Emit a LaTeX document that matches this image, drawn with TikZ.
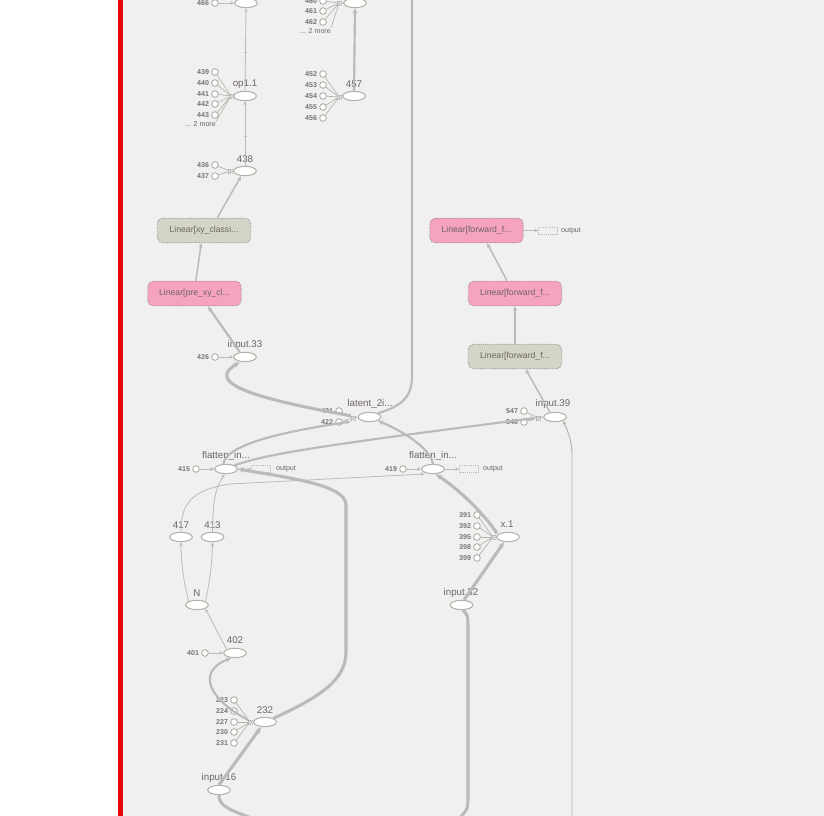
\documentclass[tikz,border=0pt]{standalone}
\usepackage{fontspec}
\setmainfont{Liberation Sans}
\usetikzlibrary{arrows.meta,shapes.geometric}
\definecolor{bgc}{HTML}{F0F0F0}
\definecolor{redbar}{HTML}{E8000B}
\definecolor{edgec}{HTML}{BABABA}
\definecolor{txt}{HTML}{6E6464}
\definecolor{ellb}{HTML}{B3B3AA}
\definecolor{pinkf}{HTML}{F5A3BE}
\definecolor{greenf}{HTML}{D3D6C6}
\definecolor{boxb}{HTML}{8C8080}
\begin{document}
\begin{tikzpicture}[x=0.75pt,y=-0.75pt,
  opn/.style={ellipse,draw=ellb,fill=white,line width=0.8pt,minimum width=17pt,minimum height=7pt,inner sep=0pt},
  cst/.style={circle,draw=ellb,fill=white,line width=0.7pt,minimum size=5pt,inner sep=0pt},
  junc/.style={rectangle,draw=gray!70,densely dotted,fill=gray!35,minimum size=3pt,inner sep=0pt},
  lab/.style={font=\fontsize{7.3}{8}\selectfont,text=txt,inner sep=0pt},
  clab/.style={font=\fontsize{5.3}{6}\selectfont\bfseries,text=txt!90,inner sep=0pt,anchor=east},
  boxn/.style={rectangle,rounded corners=4pt,draw=boxb,densely dotted,line width=0.6pt,minimum width=70pt,minimum height=18.5pt,font=\fontsize{6.5}{7}\selectfont,text=txt,inner sep=1pt},
  outb/.style={rectangle,draw=edgec,densely dotted,minimum width=14pt,minimum height=5pt,inner sep=0pt},
  outl/.style={font=\fontsize{5.3}{6}\selectfont,text=txt,inner sep=0pt},
  inl/.style={draw=ellb,line width=0.5pt},
  ethin/.style={draw=edgec,line width=0.6pt,-{Stealth[length=3pt,width=2.6pt]}},
  emed/.style={draw=edgec,line width=1.1pt,-{Stealth[length=3.5pt,width=3.2pt]}},
  ethick/.style={draw=edgec,line width=1.6pt,-{Stealth[length=4pt,width=3.6pt]}},
  ewide/.style={draw=edgec,line width=2.3pt,-{Stealth[length=4.5pt,width=4.2pt]}},
  enoarrow/.style={draw=edgec,line width=1.6pt}]
\useasboundingbox (0,0) rectangle (824,816);
\clip (0,0) rectangle (824,816);
\fill[white] (0,0) rectangle (118,816);
\fill[redbar] (118,0) rectangle (123,816);
\fill[bgc] (123,0) rectangle (824,816);

% ---------- nodes ----------
\node[opn] (top466) at (246,3) {};
\node[opn] (topR) at (355,3) {};
\node[opn] (op11) at (245,96) {};
\node[lab] (Lop11) at (245,84) {op1.1};
\node[opn] (n457) at (354,96) {};
\node[lab] (L457) at (354,84) {457};
\node[opn] (n438) at (245,171) {};
\node[lab] (L438) at (245,159) {438};
\node[boxn,fill=greenf] (xycls) at (204,230.5) {Linear[xy\_classi...};
\node[boxn,fill=pinkf] (prexy) at (194.5,293.5) {Linear[pre\_xy\_cl...};
\node[opn] (in33) at (245,357) {};
\node[lab] (Lin33) at (245,345) {input.33};
\node[opn] (latent) at (369.5,417) {};
\node[lab] (Llatent) at (370,404) {latent\_2i...};
\node[boxn,fill=pinkf] (fwtop) at (476.5,230.5) {Linear[forward\_f...};
\node[outb] (out1) at (548,230.5) {};
\node[outl] (Lout1) at (571,230.5) {output};
\node[boxn,fill=pinkf] (fwmid) at (515,293.5) {Linear[forward\_f...};
\node[boxn,fill=greenf] (fwgg) at (515,356.5) {Linear[forward\_f...};
\node[opn] (in39) at (555,417) {};
\node[lab] (Lin39) at (553,404) {input.39};
\node[opn] (flL) at (226,469) {};
\node[lab] (LflL) at (226,456) {flatten\_in...};
\node[outb] (out2) at (261,469) {};
\node[outl] (Lout2) at (286,469) {output};
\node[opn] (flR) at (433,469) {};
\node[lab] (LflR) at (433,456) {flatten\_in...};
\node[outb] (out3) at (469,469) {};
\node[outl] (Lout3) at (493,469) {output};
\node[opn] (n417) at (181,537) {};
\node[lab] (L417) at (181,525) {417};
\node[opn] (n413) at (212.5,537) {};
\node[lab] (L413) at (212.5,525) {413};
\node[opn] (x1) at (508,537) {};
\node[lab] (Lx1) at (507,524) {x.1};
\node[opn] (N) at (197,605) {};
\node[lab] (LN) at (197,593) {N};
\node[opn] (in32) at (461.5,605) {};
\node[lab] (Lin32) at (461,593) {input.32};
\node[opn] (n402) at (235,653) {};
\node[lab] (L402) at (235,640) {402};
\node[opn] (n232) at (265,722) {};
\node[lab] (L232) at (265,710) {232};
\node[opn] (in16) at (219,790) {};
\node[lab] (Lin16) at (219,778) {input.16};

% ---------- junctions ----------
\node[junc] (jTR) at (339,3) {};
\node[junc] (jop) at (231,96) {};
\node[junc] (j457) at (339,97) {};
\node[junc] (j438) at (230,171) {};
\node[junc] (jlat) at (353,418) {};
\node[junc] (j39) at (538,418) {};
\node[junc] (jx1) at (493,537) {};
\node[junc] (j232) at (250,722) {};

% ---------- constants ----------
\foreach \n/\y in {460/1,461/11,462/22}{
  \node[cst] (c\n) at (323,\y) {};
  \node[clab] at ([xshift=-1.5pt]c\n.west) {\n};
  \draw[inl] (c\n) -- (jTR);}
\node[outl,anchor=east] (more1) at (331,31) {... 2 more};
\draw[inl] (more1.north east) -- (jTR);
\foreach \n/\y in {439/72,440/83,441/94,442/104,443/115}{
  \node[cst] (c\n) at (215,\y) {};
  \node[clab] at ([xshift=-1.5pt]c\n.west) {\n};
  \draw[inl] (c\n) -- (jop);}
\node[outl,anchor=east] (more2) at (216,124) {... 2 more};
\draw[inl] (more2.north east) -- (jop);
\foreach \n/\y in {452/74,453/85,454/96,455/107,456/118}{
  \node[cst] (c\n) at (323,\y) {};
  \node[clab] at ([xshift=-1.5pt]c\n.west) {\n};
  \draw[inl] (c\n) -- (j457);}
\foreach \n/\y in {436/165,437/176}{
  \node[cst] (c\n) at (215,\y) {};
  \node[clab] at ([xshift=-1.5pt]c\n.west) {\n};
  \draw[inl] (c\n) -- (j438);}
\foreach \n/\y in {421/411,422/422}{
  \node[cst] (c\n) at (339,\y) {};
  \node[clab] at ([xshift=-1.5pt]c\n.west) {\n};
  \draw[inl] (c\n) -- (jlat);}
\foreach \n/\y in {547/411,548/422}{
  \node[cst] (c\n) at (524,\y) {};
  \node[clab] at ([xshift=-1.5pt]c\n.west) {\n};
  \draw[inl] (c\n) -- (j39);}
\foreach \n/\y in {391/515,392/526,395/537,398/547,399/558}{
  \node[cst] (c\n) at (477,\y) {};
  \node[clab] at ([xshift=-1.5pt]c\n.west) {\n};
  \draw[inl] (c\n) -- (jx1);}
\foreach \n/\y in {223/700,224/711,227/722,230/732,231/743}{
  \node[cst] (c\n) at (234,\y) {};
  \node[clab] at ([xshift=-1.5pt]c\n.west) {\n};
  \draw[inl] (c\n) -- (j232);}
\foreach \n/\x/\y/\t in {466/215/3/top466,426/215/357/in33,415/196/469/flL,419/403/469/flR,401/205/653/n402}{
  \node[cst] (c\n) at (\x,\y) {};
  \node[clab] at ([xshift=-1.5pt]c\n.west) {\n};
  \draw[ethin] (c\n) -- (\t.west);}
\foreach \j/\t in {jTR/topR,jop/op11,j457/n457,j438/n438,jlat/latent,j39/in39,jx1/x1,j232/n232}{
  \draw[inl] (\j) -- (\t.west);}

% ---------- edges ----------
\draw[ethin] (n438.north) -- (op11.south);
\draw[ethin] (op11.north) -- (top466.south);
\draw[draw=edgec,line width=0.5pt] (243.5,52) -- (246.5,52) (243.5,136) -- (246.5,136);
\draw[ethick] (n457.north) -- (topR.south);
\draw[emed] (xycls.north) ++(10pt,0) -- ([xshift=-3pt]n438.south);
\draw[emed] ([xshift=1pt]prexy.north) -- ([xshift=-2pt]xycls.south);
\draw[ethick] ([xshift=-4pt]in33.north) -- ([xshift=10pt]prexy.south);
\draw[ewide] (jlat.north west) .. controls (240,396) and (208,381) .. ([xshift=-4pt]in33.south);
\draw[enoarrow] (latent.north east) .. controls (405,405) and (412,395) .. (412,375) -- (412,-5);
\draw[ethick] ([xshift=-2pt]flL.north) .. controls (226,445) and (280,432) .. ([yshift=-1pt]jlat.south west);
\draw[ethick] (flR.north) .. controls (430,447) and (400,430) .. (latent.south east);
\draw[ethick] (flL.north east) .. controls (265,455) and (300,448) .. (j39.west);
\draw[emed] ([xshift=-4pt]in39.north) -- ([xshift=8pt]fwgg.south);
\draw[emed] (fwgg.north) -- (fwmid.south);
\draw[emed] ([xshift=-6pt]fwmid.north) -- ([xshift=8pt]fwtop.south);
\draw[ethin] (fwtop.east) -- (out1.west);
\draw[ethin] (flL.east) -- (out2.west);
\draw[ethin] (flR.east) -- (out3.west);
\draw[draw=ellb,line width=0.7pt,-{Stealth[length=3pt,width=2.6pt]}] (572,820) -- (572,455) .. controls (572,438) and (566,428) .. (in39.south east);
\draw[ethin] (n417.north) .. controls (181,505) and (190,490) .. (230,484) -- ([yshift=-1pt]flR.south west);
\draw[ethin] (n413.north) .. controls (213,505) and (214,490) .. ([xshift=-1pt]flL.south);
\draw[ethin] (N.north west) .. controls (186,590) and (181,570) .. (n417.south);
\draw[ethin] (N.north east) .. controls (208,590) and (212,570) .. (n413.south);
\draw[ethin] (n402.north west) -- (N.south east);
\draw[ethick] (j232.north west) .. controls (210,700) and (195,672) .. ([xshift=-3pt]n402.south);
\draw[ewide] (n232.north east) .. controls (320,697) and (346,680) .. (346,652) -- (346,505) .. controls (346,485) and (290,478) .. (flL.east);
\draw[ewide] (in16.north) -- ([xshift=-3pt]n232.south);
\draw[ewide] ([xshift=-2pt]x1.north west) .. controls (485,515) and (460,490) .. ([xshift=2pt]flR.south);
\draw[ewide] ([xshift=2pt]in32.north) -- ([xshift=-3pt]x1.south);
\draw[enoarrow,line width=2.3pt] ([xshift=1pt]in32.south) .. controls (468,615) .. (468,632) -- (468,795) .. controls (468,810) .. (455,822);
\draw[enoarrow,line width=2.3pt] (in16.south) .. controls (218,806) and (232,812) .. (270,824);
\end{tikzpicture}
\end{document}
